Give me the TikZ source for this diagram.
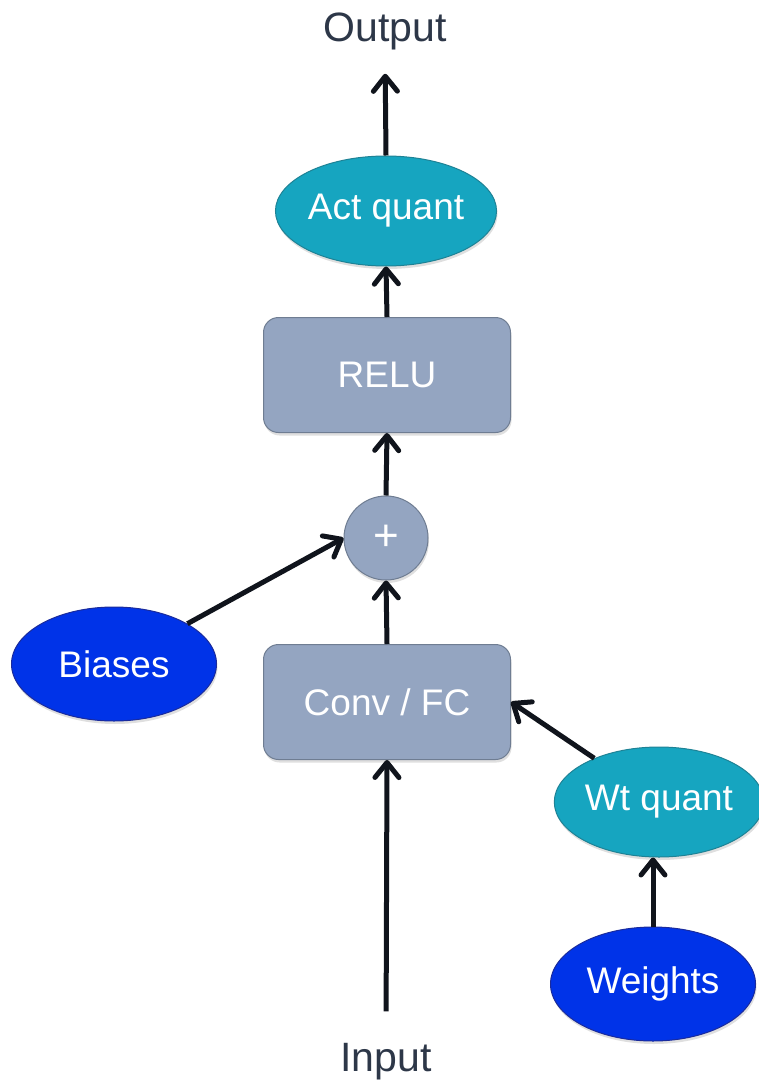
\documentclass[tikz,border=0pt]{standalone}
\usepackage{fontspec}
\setmainfont{Liberation Sans}
\usetikzlibrary{arrows.meta, positioning, shapes.geometric, shadows}

\definecolor{boxfill}{HTML}{94A5C1}
\definecolor{boxline}{HTML}{6F7D92}
\definecolor{quantfill}{HTML}{16A5C0}
\definecolor{quantline}{HTML}{1E8295}
\definecolor{paramfill}{HTML}{0033E8}
\definecolor{paramline}{HTML}{1A2B9C}
\definecolor{lbltext}{HTML}{2D3748}
\definecolor{arrline}{HTML}{10141C}

\begin{document}
\begin{tikzpicture}[
  x=1pt, y=-1pt,
  font=\fontsize{37}{40}\selectfont,
  nshadow/.style={drop shadow={shadow xshift=1pt, shadow yshift=-3pt, opacity=0.25}},
  box/.style={draw=boxline, line width=1pt, fill=boxfill, rounded corners=15pt, text=white,
    minimum width=247pt, minimum height=115pt, inner sep=0pt, nshadow},
  sum/.style={draw=boxline, line width=1pt, fill=boxfill, circle, text=white,
    minimum size=84pt, inner sep=0pt, font=\fontsize{44}{46}\selectfont, nshadow},
  quant/.style={draw=quantline, line width=1pt, fill=quantfill, ellipse, text=white,
    minimum width=207pt, minimum height=110pt, inner sep=0pt, nshadow},
  param/.style={draw=paramline, line width=1pt, fill=paramfill, ellipse, text=white,
    minimum width=205pt, minimum height=114pt, inner sep=0pt, nshadow},
  lbl/.style={text=lbltext, inner sep=2pt, font=\fontsize{41}{44}\selectfont},
  arr/.style={-{Straight Barb[length=15pt, width=24pt, round]}, line width=5pt, draw=arrline},
]
\useasboundingbox (0,0) rectangle (758,1086);

% ---- main column
\node[lbl] (out) at (385,31) {Output};
\node[quant] (actq) at (386,211) {Act quant};
\node[box] (relu) at (387,375) {RELU};
\node[sum] (plus) at (386,538) {+};
\node[box] (conv) at (387,702) {Conv / FC};
\node[lbl] (inp) at (386,1062) {Input};

% ---- side inputs
\node[param] (bias) at (114,664) {Biases};
\node[quant] (wtq) at (659,802) {Wt quant};
\node[param] (wts) at (653,984) {Weights};

% ---- flow
\draw[arr, shorten <=30pt] (inp.north) -- (conv.south);
\draw[arr] (conv.north) -- (plus.south);
\draw[arr] (plus.north) -- (relu.south);
\draw[arr] (relu.north) -- (actq.south);
\draw[arr, shorten >=22pt] (actq.north) -- (out.south);
\draw[arr] (bias) -- (plus.west);
\draw[arr] (wts.north) -- (wtq.south -| wts.north);
\draw[arr] (wtq) -- (conv.east);
\end{tikzpicture}
\end{document}
